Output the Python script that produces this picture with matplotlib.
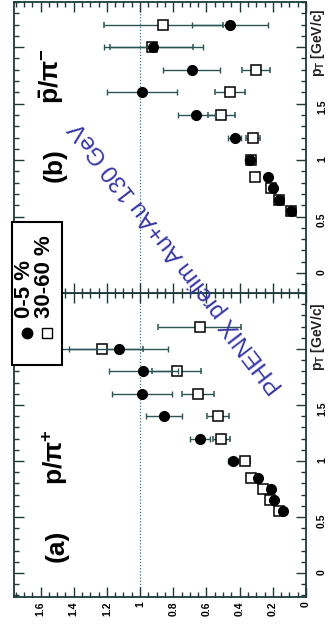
import matplotlib
matplotlib.use("Agg")
import matplotlib.pyplot as plt
from matplotlib.patches import Rectangle
from matplotlib.lines import Line2D
from matplotlib.ticker import MultipleLocator

plt.rcParams["font.family"] = ["Liberation Sans", "DejaVu Sans"]
plt.rcParams["mathtext.fontset"] = "custom"
plt.rcParams["mathtext.rm"] = "Liberation Sans"
plt.rcParams["mathtext.bf"] = "Liberation Sans:bold"
plt.rcParams["mathtext.it"] = "Liberation Sans:italic"

# ---- data: p/pi ratios vs transverse momentum -------------------------
# panel (a): p / pi+
pt_a_central = [0.55, 0.65, 0.75, 0.85, 1.0, 1.2, 1.4, 1.6, 1.8, 2.0]
ratio_a_central = [0.14, 0.19, 0.21, 0.29, 0.44, 0.64, 0.855, 0.99, 0.98, 1.13]
err_a_central = [0.015, 0.015, 0.02, 0.02, 0.03, 0.06, 0.11, 0.18, 0.21, 0.30]

pt_a_periph = [0.55, 0.65, 0.75, 0.85, 1.0, 1.2, 1.4, 1.6, 1.8, 2.0, 2.2]
ratio_a_periph = [0.16, 0.22, 0.26, 0.33, 0.37, 0.51, 0.53, 0.65, 0.78, 1.23, 0.64]
err_a_periph = [0.015, 0.015, 0.02, 0.02, 0.03, 0.05, 0.065, 0.095, 0.15, 0.25, 0.25]

# panel (b): pbar / pi-
pt_b_central = [0.55, 0.65, 0.75, 0.85, 1.0, 1.2, 1.4, 1.6, 1.8, 2.0, 2.2]
ratio_b_central = [0.09, 0.16, 0.20, 0.23, 0.34, 0.43, 0.66, 0.99, 0.69, 0.92, 0.46]
err_b_central = [0.015, 0.015, 0.02, 0.02, 0.03, 0.04, 0.11, 0.21, 0.17, 0.30, 0.23]

pt_b_periph = [0.55, 0.65, 0.75, 0.85, 1.0, 1.2, 1.4, 1.6, 1.8, 2.0, 2.2]
ratio_b_periph = [0.09, 0.16, 0.21, 0.31, 0.33, 0.32, 0.51, 0.46, 0.30, 0.93, 0.86]
err_b_periph = [0.015, 0.015, 0.02, 0.02, 0.03, 0.04, 0.08, 0.09, 0.085, 0.25, 0.36]

ratio_ticks = [0, 0.2, 0.4, 0.6, 0.8, 1.0, 1.2, 1.4, 1.6]
ratio_ticklabels = ["0", "0.2", "0.4", "0.6", "0.8", "1", "1.2", "1.4", "1.6"]
pt_ticks = [0, 0.5, 1.0, 1.5, 2.0]
pt_ticklabels = ["0", "0.5", "1", "1.5", ""]

legend_labels = ["0-5 %", "30-60 %"]
panel_tags = ["(a)", "(b)"]
panel_titles = [r"$\mathbf{p/\pi^{+}}$", r"$\mathbf{\bar{p}/\pi^{-}}$"]
pt_title = r"$\mathbf{p_{T}}$ [GeV/c]"
note = "PHENIX prelim Au+Au 130 GeV"

# ---- figure (page is turned sideways: pT runs upward, ratio runs leftward)
W, H = 331, 626
fig = plt.figure(figsize=(W / 100, H / 100), dpi=100)
fig.patch.set_facecolor("white")


def fx(x):
    return x / W


def fy(y):
    return 1 - y / H


frame_col = "#1d3a3a"
bar_col = "#2b5555"

ax_a = fig.add_axes([fx(14), fy(597), 292 / W, 304 / H])
ax_b = fig.add_axes([fx(14), fy(293), 292 / W, 291 / H])


def style(ax, ylim, show_ratio_labels, title_at):
    ax.set_xlim(1.76, 0)
    ax.set_ylim(*ylim)
    ax.axvline(1.0, color="#2a8080", lw=0.9, ls=(0, (1, 1.5)), zorder=1)
    ax.set_xticks(ratio_ticks)
    ax.set_xticklabels(ratio_ticklabels if show_ratio_labels else [""] * len(ratio_ticks))
    ax.xaxis.set_minor_locator(MultipleLocator(0.05))
    ax.set_yticks(pt_ticks)
    ax.set_yticklabels(pt_ticklabels)
    ax.yaxis.set_minor_locator(MultipleLocator(0.1))
    ax.tick_params(which="both", direction="in", top=True, bottom=True,
                   left=True, right=True, color=frame_col, width=1.0)
    ax.tick_params(which="major", length=7)
    ax.tick_params(which="minor", length=3.5)
    ax.tick_params(axis="y", labelleft=False, labelright=True,
                   labelrotation=90, pad=8, labelsize=7.5)
    ax.tick_params(axis="x", labelrotation=90, pad=3, labelsize=7.5)
    for lab in ax.get_xticklabels() + ax.get_yticklabels():
        lab.set_fontweight("bold")
    for sp in ax.spines.values():
        sp.set_color(frame_col)
        sp.set_linewidth(1.3)
    ax.text(1.04, title_at, pt_title, transform=ax.get_yaxis_transform(),
            rotation=90, rotation_mode="anchor", ha="left", va="center",
            fontsize=10, fontweight="bold", color="#222222")


def draw(ax, pc, rc, ec, pp, rp, ep):
    ax.errorbar(rp, pp, xerr=ep, fmt="s", ms=6.5, mfc="white", mec="black",
                mew=1.1, ecolor=bar_col, elinewidth=1.0, capsize=2, capthick=1.0,
                zorder=3)
    ax.errorbar(rc, pc, xerr=ec, fmt="o", ms=7, mfc="black", mec="black",
                ecolor=bar_col, elinewidth=1.0, capsize=2, capthick=1.0,
                zorder=4)


style(ax_a, (-0.214, 2.5), True, 1.8)
style(ax_b, (-0.177, 2.40), False, 1.74)
draw(ax_a, pt_a_central, ratio_a_central, err_a_central,
     pt_a_periph, ratio_a_periph, err_a_periph)
draw(ax_b, pt_b_central, ratio_b_central, err_b_central,
     pt_b_periph, ratio_b_periph, err_b_periph)

# panel tags and titles
for (x, y), s in zip([(57, 546), (55, 165)], panel_tags):
    fig.text(fx(x), fy(y), s, rotation=90, ha="center", va="center",
             fontsize=19, fontweight="bold")
for (x, y), s in zip([(55, 457), (52, 76)], panel_titles):
    fig.text(fx(x), fy(y), s, rotation=90, ha="center", va="center",
             fontsize=19)

# legend box
box = Rectangle((fx(12), fy(365)), 50 / W, 143 / H, transform=fig.transFigure,
                facecolor="white", edgecolor="black", lw=1.5, zorder=5)
fig.add_artist(box)
fig.add_artist(Line2D([fx(27)], [fy(333)], marker="o", ms=7.5, mfc="black",
                      mec="black", ls="none", transform=fig.transFigure, zorder=6))
fig.add_artist(Line2D([fx(47)], [fy(333)], marker="s", ms=7, mfc="white",
                      mec="black", mew=1.0, ls="none", transform=fig.transFigure,
                      zorder=6))
for x, s in zip([25, 45], legend_labels):
    fig.text(fx(x), fy(318), s, rotation=90, rotation_mode="anchor",
             ha="left", va="center", fontsize=16, fontweight="bold", zorder=6)

# experiment note
fig.text(fx(177), fy(257), note, rotation=127.5, rotation_mode="anchor",
         ha="center", va="center", fontsize=17, color="#3535a5", zorder=6)

fig.savefig("out.png", dpi=100, facecolor="white")
